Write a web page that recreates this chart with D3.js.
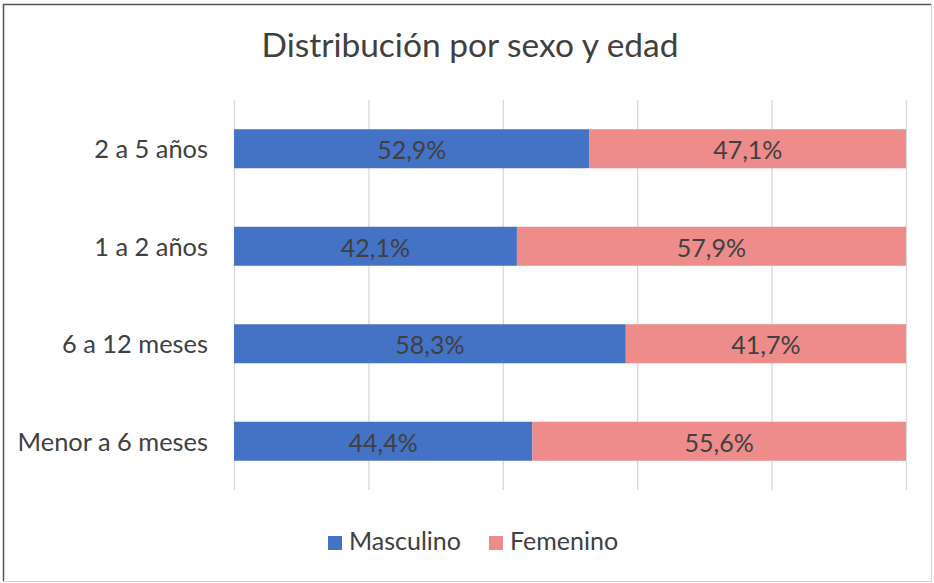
<!DOCTYPE html>
<html><head><meta charset="utf-8">
<script src="https://cdn.jsdelivr.net/npm/d3@7"></script>
<style>body{margin:0;background:#fff}svg{display:block}</style>
</head><body>
<script>
const categories = ["2 a 5 años", "1 a 2 años", "6 a 12 meses", "Menor a 6 meses"];
const masculino = [52.9, 42.1, 58.3, 44.4];
const femenino = [47.1, 57.9, 41.7, 55.6];
const seriesNames = ["Masculino", "Femenino"];
const ticks = [0, 20, 40, 60, 80, 100];
const title = "Distribución por sexo y edad";

const W = 934, H = 583;
const font = "Lato, 'Open Sans', sans-serif";
const colors = ["#4472C4", "#EE8B8B"];
const svg = d3.select("body").append("svg").attr("width", W).attr("height", H);
svg.append("rect").attr("x", 0).attr("y", 0).attr("width", W).attr("height", H).attr("fill", "#fff");
svg.append("rect").attr("x", 3.5).attr("y", 4.5).attr("width", 928).attr("height", 577)
  .attr("fill", "none").attr("stroke", "#d0d0d0");
svg.append("path").attr("d", "M3.5,581 V4.5 H931").attr("fill", "none").attr("stroke", "#555").attr("stroke-width", 1.5);

const x = d3.scaleLinear().domain([0, 100]).range([234, 906]);
const y = d3.scaleBand().domain(categories).range([100, 490]).paddingInner(0.6).paddingOuter(0.3);

svg.append("text").attr("x", 470).attr("y", 57).attr("text-anchor", "middle")
  .attr("font-family", font).attr("font-size", 33.5).attr("fill", "#404040").text(title);

const grid = svg.append("g").attr("transform", "translate(0,490)")
  .call(d3.axisBottom(x).tickValues(ticks).tickSize(-390).tickFormat(""));
grid.select(".domain").remove();
grid.selectAll("line").attr("stroke", "#d9d9d9").attr("stroke-width", 1.3);

const rows = categories.map((c, i) => ({cat: c, vals: [masculino[i], femenino[i]]}));
const stack = d3.stack().keys([0, 1]).value((d, k) => d.vals[k])(rows);

stack.forEach((layer, k) => {
  const g = svg.append("g");
  g.selectAll("rect").data(layer).join("rect")
    .attr("x", d => x(d[0])).attr("y", d => y(d.data.cat))
    .attr("width", d => x(d[1]) - x(d[0])).attr("height", y.bandwidth())
    .attr("fill", colors[k]);
  g.selectAll("text").data(layer).join("text")
    .attr("x", d => (x(d[0]) + x(d[1])) / 2).attr("y", d => y(d.data.cat) + y.bandwidth() / 2)
    .attr("dy", "0.42em").attr("text-anchor", "middle")
    .attr("font-family", font).attr("font-size", 25).attr("fill", "#404040")
    .text(d => d.data.vals[k].toFixed(1).replace(".", ",") + "%");
});

const yAxis = svg.append("g").attr("transform", "translate(234,0)")
  .call(d3.axisLeft(y).tickSize(0).tickPadding(26));
yAxis.select(".domain").remove();
yAxis.selectAll("text").attr("dy", "0.38em").attr("font-family", font).attr("font-size", 25.4).attr("fill", "#404040");

const legX = [328, 489];
seriesNames.forEach((n, k) => {
  svg.append("rect").attr("x", legX[k]).attr("y", 536).attr("width", 14).attr("height", 14).attr("fill", colors[k]);
  svg.append("text").attr("x", legX[k] + 21).attr("y", 550)
    .attr("font-family", font).attr("font-size", 25).attr("fill", "#404040").text(n);
});
</script>
</body></html>
